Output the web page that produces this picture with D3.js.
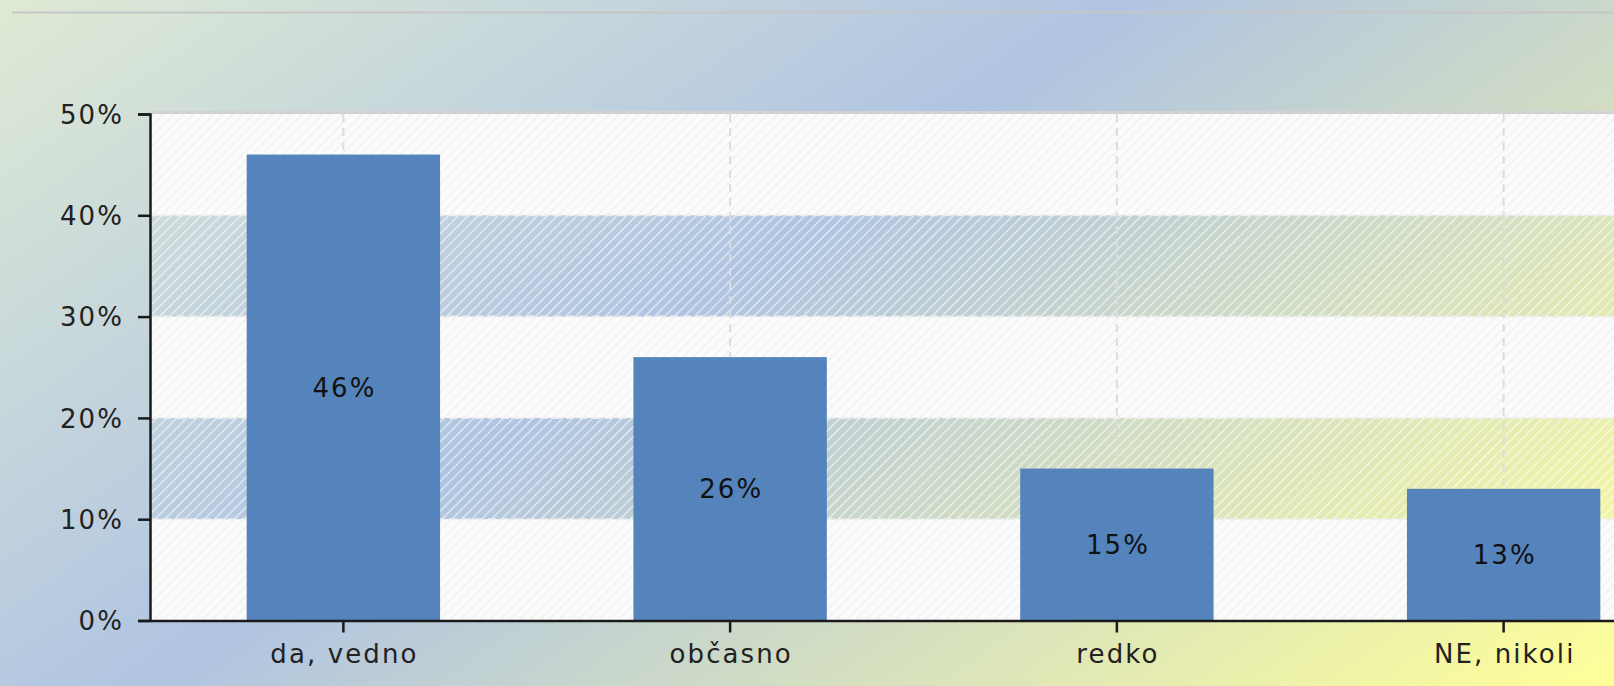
<!DOCTYPE html>
<html>
<head>
<meta charset="utf-8">
<script src="https://cdn.jsdelivr.net/npm/d3@7"></script>
<style>
  html, body { margin: 0; padding: 0; overflow: hidden; background: #fff; }
  svg { display: block; }
  text { font-family: "DejaVu Sans", Verdana, sans-serif; }
</style>
</head>
<body>
<svg id="chart" width="1614" height="686"></svg>
<script>
// Survey answers and their shares (percent)
const categories = ["da, vedno", "občasno", "redko", "NE, nikoli"];
const shares = [46, 26, 15, 13];
const yTicks = [0, 10, 20, 30, 40, 50];
// 10% bands that are shaded with the backdrop showing through
const shadedBands = [[10, 20], [30, 40]];
const clearBands = [[0, 10], [20, 30], [40, 50]];

const W = 1614, H = 686;
const plot = { left: 150, top: 114, bottom: 620.5, right: 1697 };
const FONT = 26, SPACING = 2.1;

const svg = d3.select("#chart");
const defs = svg.append("defs");

// Diagonal backdrop: pale green -> blue -> yellow
const bg = defs.append("linearGradient")
  .attr("id", "bgGrad")
  .attr("gradientUnits", "userSpaceOnUse")
  .attr("x1", 0).attr("y1", 0)
  .attr("x2", 853).attr("y2", 1219);
bg.append("stop").attr("offset", 0).attr("stop-color", "#dfead4");
bg.append("stop").attr("offset", 0.435).attr("stop-color", "#b0c4e2");
bg.append("stop").attr("offset", 1).attr("stop-color", "#ffff99");

// Hatch for shaded bands (white diagonal stripes over the backdrop)
const hatch = defs.append("pattern")
  .attr("id", "hatchShade")
  .attr("patternUnits", "userSpaceOnUse")
  .attr("width", 7).attr("height", 7)
  .attr("patternTransform", "rotate(45)");
hatch.append("line")
  .attr("x1", 0).attr("y1", 0).attr("x2", 0).attr("y2", 7)
  .attr("stroke", "#ffffff").attr("stroke-width", 2.4).attr("opacity", 0.7);

// Hatch for the clear bands (nearly white with faint stripes)
const hatch2 = defs.append("pattern")
  .attr("id", "hatchClear")
  .attr("patternUnits", "userSpaceOnUse")
  .attr("width", 7).attr("height", 7)
  .attr("patternTransform", "rotate(45)");
hatch2.append("rect").attr("width", 7).attr("height", 7).attr("fill", "#fbfbfb");
hatch2.append("line")
  .attr("x1", 0).attr("y1", 0).attr("x2", 0).attr("y2", 7)
  .attr("stroke", "#efefef").attr("stroke-width", 2.2);

svg.append("rect").attr("width", W).attr("height", H).attr("fill", "url(#bgGrad)");

// Rule across the top
svg.append("line")
  .attr("x1", 12).attr("x2", W).attr("y1", 12.5).attr("y2", 12.5)
  .attr("stroke", "#c6c6c6").attr("stroke-width", 2);

const x = d3.scaleBand()
  .domain(categories)
  .range([plot.left, plot.right])
  .paddingInner(0.5)
  .paddingOuter(0.25);

const y = d3.scaleLinear()
  .domain([0, 50])
  .range([plot.bottom, plot.top]);

const g = svg.append("g");

// Bands
g.selectAll("rect.clear")
  .data(clearBands)
  .join("rect")
  .attr("class", "clear")
  .attr("x", plot.left)
  .attr("width", plot.right - plot.left)
  .attr("y", d => y(d[1]))
  .attr("height", d => y(d[0]) - y(d[1]))
  .attr("fill", "url(#hatchClear)");

g.selectAll("rect.shade")
  .data(shadedBands)
  .join("rect")
  .attr("class", "shade")
  .attr("x", plot.left)
  .attr("width", plot.right - plot.left)
  .attr("y", d => y(d[1]))
  .attr("height", d => y(d[0]) - y(d[1]))
  .attr("fill", "url(#hatchShade)");

// Horizontal grid
g.selectAll("line.hgrid")
  .data(yTicks.slice(1, -1))
  .join("line")
  .attr("class", "hgrid")
  .attr("x1", plot.left).attr("x2", plot.right)
  .attr("y1", d => y(d)).attr("y2", d => y(d))
  .attr("stroke", "#eeeeee").attr("stroke-width", 2)
  .attr("stroke-dasharray", "8,5");

// Top border of the plot
g.append("line")
  .attr("x1", plot.left).attr("x2", plot.right)
  .attr("y1", plot.top - 1.5).attr("y2", plot.top - 1.5)
  .attr("stroke", "#d2d2d2").attr("stroke-width", 3);

// Vertical grid at category centres
g.selectAll("line.vgrid")
  .data(categories)
  .join("line")
  .attr("class", "vgrid")
  .attr("x1", d => x(d) + x.bandwidth() / 2)
  .attr("x2", d => x(d) + x.bandwidth() / 2)
  .attr("y1", plot.top).attr("y2", plot.bottom)
  .attr("stroke", "#dcdcdc").attr("stroke-width", 2)
  .attr("stroke-dasharray", "8,6");

// Bars
const bars = g.selectAll("g.bar")
  .data(categories.map((c, i) => ({ c, v: shares[i] })))
  .join("g")
  .attr("class", "bar");

bars.append("rect")
  .attr("x", d => x(d.c))
  .attr("width", x.bandwidth())
  .attr("y", d => y(d.v))
  .attr("height", d => y(0) - y(d.v))
  .attr("fill", "#5584bd");

bars.append("text")
  .attr("x", d => x(d.c) + x.bandwidth() / 2 + SPACING / 2)
  .attr("y", d => (y(d.v) + y(0)) / 2)
  .attr("text-anchor", "middle")
  .attr("dominant-baseline", "central")
  .attr("font-size", FONT)
  .attr("letter-spacing", SPACING)
  .attr("fill", "#111")
  .text(d => d.v + "%");

// Axes
const yAxis = d3.axisLeft(y)
  .tickValues(yTicks)
  .tickSize(12)
  .tickPadding(14)
  .tickFormat(d => d + "%");

const yg = svg.append("g")
  .attr("transform", `translate(${plot.left},0)`)
  .call(yAxis);

const xAxis = d3.axisBottom(x)
  .tickSize(12)
  .tickSizeOuter(0)
  .tickPadding(8);

const xg = svg.append("g")
  .attr("transform", `translate(0,${plot.bottom})`)
  .call(xAxis);

[yg, xg].forEach(a => {
  a.select(".domain").attr("stroke", "#1a1a1a").attr("stroke-width", 2.5);
  a.selectAll(".tick line").attr("stroke", "#1a1a1a").attr("stroke-width", 2.5);
  a.selectAll(".tick text")
    .attr("font-family", "'DejaVu Sans', Verdana, sans-serif")
    .attr("font-size", FONT)
    .attr("letter-spacing", SPACING)
    .attr("fill", "#222");
});
yg.selectAll(".tick text").attr("dy", "0.35em");
xg.selectAll(".tick text").attr("dy", "0.86em").attr("dx", SPACING / 2);
</script>
</body>
</html>
